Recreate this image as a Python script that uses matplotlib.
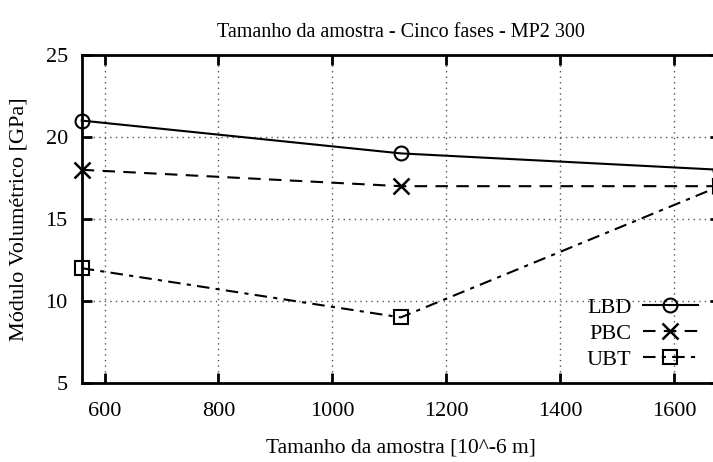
import matplotlib
matplotlib.use("Agg")
import matplotlib.pyplot as plt

plt.rcParams['font.family'] = ['Liberation Serif', 'DejaVu Serif']

x = [560, 1120, 1680]
lbd = [21, 19, 18]
pbc = [18, 17, 17]
ubt = [12, 9, 17]
xticks = [600, 800, 1000, 1200, 1400, 1600]
yticks = [5, 10, 15, 20, 25]

fig = plt.figure(figsize=(7.13, 4.62), dpi=100)
ax = fig.add_axes([0.1146, 0.171, 0.895, 0.71])

ax.plot(x, lbd, color='black', lw=1.5, ls='-', marker='o', ms=10,
        mfc='none', mec='black', mew=1.5, label='LBD', clip_on=False)
ax.plot(x, pbc, color='black', lw=1.5, ls=(0, (6, 4)), marker='x', ms=11,
        mew=1.8, label='PBC', clip_on=False)
ax.plot(x, ubt, color='black', lw=1.5, ls=(0, (6, 3, 2, 3)), marker='s', ms=10,
        mfc='none', mec='black', mew=1.5, label='UBT', clip_on=False)

ax.set_xlim(560, 1680)
ax.set_ylim(5, 25)
ax.set_xticks(xticks)
ax.set_yticks(yticks)
ax.grid(True, ls=(0, (1, 3)), color='#555555', lw=1)
ax.tick_params(axis='x', pad=14)
ax.tick_params(axis='y', pad=10)
ax.tick_params(direction='in', length=7, width=2, top=True, right=True,
               labelsize=16)
for s in ax.spines.values():
    s.set_linewidth(2)

ax.set_title('Tamanho da amostra - Cinco fases - MP2 300', fontsize=14.5, pad=13)
ax.set_xlabel('Tamanho da amostra [10^-6 m]', fontsize=15.5, labelpad=12)
ax.set_ylabel('Módulo Volumétrico [GPa]', fontsize=16, labelpad=12)

leg = ax.legend(loc='lower right', bbox_to_anchor=(0.98, 0.013), frameon=False,
                fontsize=16, markerfirst=False, handlelength=2.5,
                labelspacing=0.25, handletextpad=0.5, borderaxespad=0)

fig.savefig('out.png', dpi=100)
